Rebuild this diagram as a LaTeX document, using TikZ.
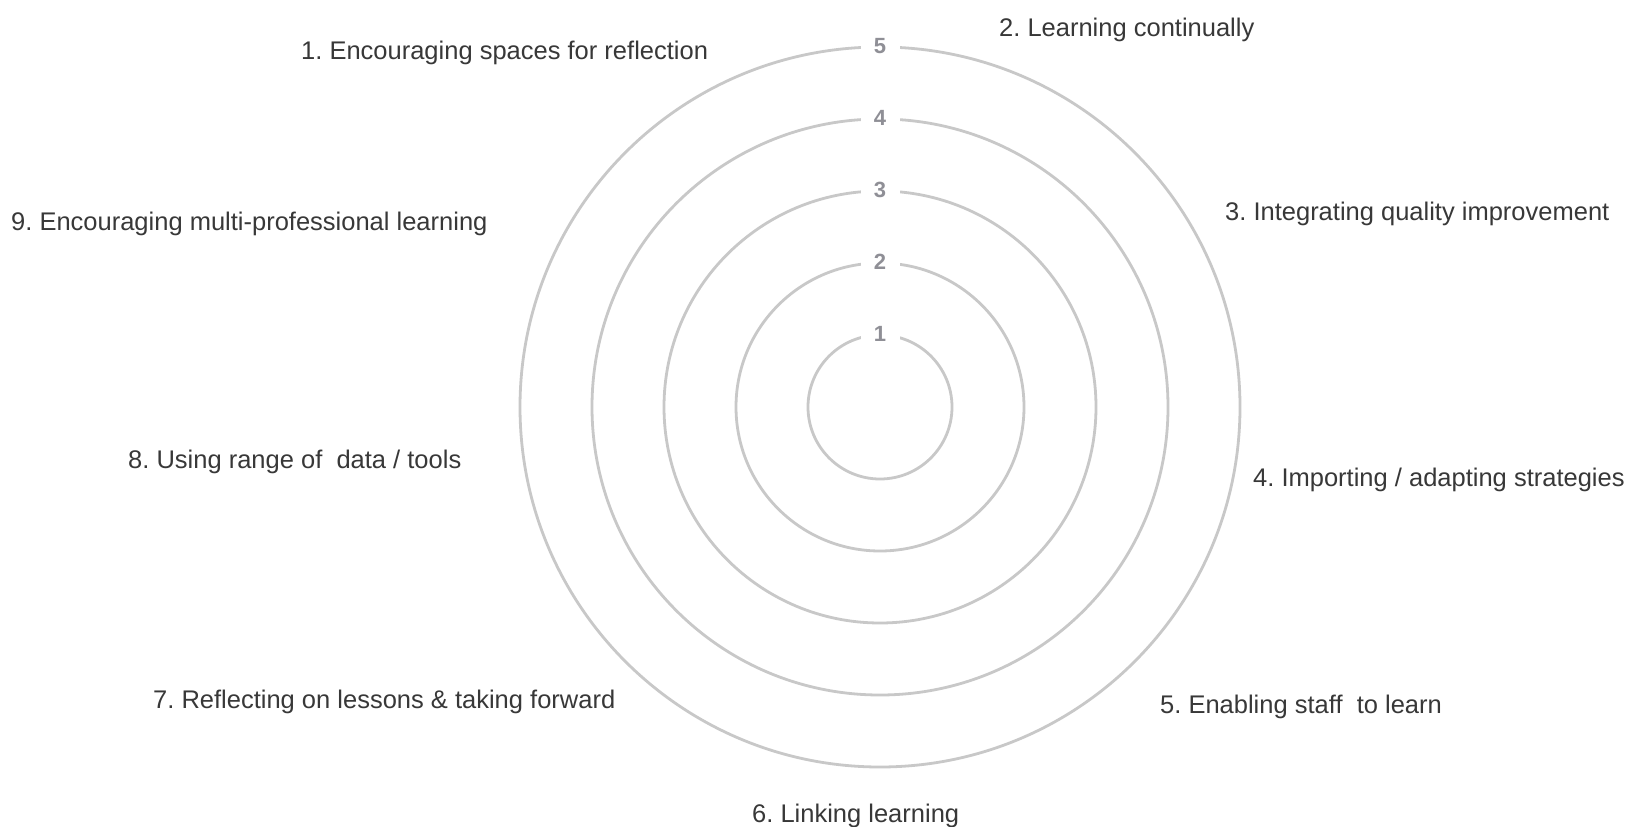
\documentclass[tikz,border=0pt]{standalone}
\usepackage{fontspec}
\setmainfont{Liberation Sans}
\definecolor{ringgray}{HTML}{C8C8C8}
\definecolor{numgray}{HTML}{8F8F96}
\definecolor{txtgray}{HTML}{383838}
\begin{document}
\frenchspacing
\begin{tikzpicture}[x=1pt,y=-1pt,
  ring/.style={circle,draw=ringgray,line width=2.8pt,inner sep=0pt},
  ringnum/.style={fill=white,text=numgray,inner sep=0pt,minimum width=39pt,minimum height=14pt,
    font=\fontsize{22}{22}\selectfont\bfseries},
  lbl/.style={anchor=base west,inner sep=0pt,text=txtgray,font=\fontsize{25.5}{30}\selectfont}]
\useasboundingbox[fill=white] (0,0) rectangle (1639,827);
\coordinate (ctr) at (880,407);
\foreach \k in {1,...,5}{
  \node[ring,minimum size={144*\k}] (c\k) at (ctr) {};
}
\foreach \k in {1,...,5}{
  \node[ringnum] (n\k) at (c\k.north) {\k};
}
\node[lbl] (t1) at (301,59) {1. Encouraging spaces for reflection};
\node[lbl] (t2) at (999,36) {2. Learning continually};
\node[lbl] (t3) at (1225,220) {3. Integrating quality improvement};
\node[lbl] (t4) at (1253,486) {4. Importing / adapting strategies};
\node[lbl] (t5) at (1160,713) {5. Enabling staff~ to learn};
\node[lbl] (t6) at (752,822) {6. Linking learning};
\node[lbl] (t7) at (153,708) {7. Reflecting on lessons \& taking forward};
\node[lbl] (t8) at (128,468) {8. Using range of~ data / tools};
\node[lbl] (t9) at (11,230) {9. Encouraging multi-professional learning};
\end{tikzpicture}
\end{document}
